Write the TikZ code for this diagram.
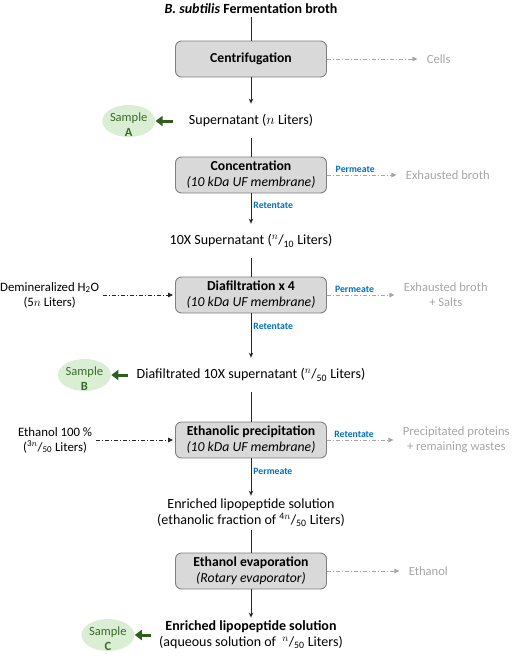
\documentclass[tikz,border=0pt]{standalone}
\usepackage{fontspec}
\setmainfont{Carlito}
\usepackage{tikz}
\usetikzlibrary{positioning}
\usetikzlibrary{shapes.geometric}
\usetikzlibrary{arrows.meta}

\definecolor{boxfill}{HTML}{D9D9D9}
\definecolor{boxline}{HTML}{7F7F7F}
\definecolor{wastegray}{HTML}{A6A6A6}
\definecolor{flowblue}{HTML}{0070C0}
\definecolor{samplefill}{HTML}{D9EED2}
\definecolor{samplegreen}{HTML}{3B6B2A}
\definecolor{arrowgreen}{HTML}{2F5F1F}

\newcommand{\Lfrac}[2]{\textsuperscript{#1}/\textsubscript{#2}}
\newcommand{\smp}[1]{\raisebox{-8pt}[8pt][8pt]{\begin{tabular}{@{}c@{}}Sample\\[0.5pt]\textbf{#1}\end{tabular}}}

\begin{document}
\begin{tikzpicture}[x=1pt,y=1pt,>={Stealth[length=5pt,width=4.5pt]},thick,
  unit/.style={rectangle,rounded corners=6pt,draw=boxline,fill=boxfill,line width=0.9pt,minimum width=151pt,minimum height=36pt,align=center,font=\fontsize{13.7}{16}\selectfont},
  stream/.style={align=center,minimum height=34pt,inner sep=3pt,font=\fontsize{14}{16}\selectfont},
  waste/.style={align=center,inner sep=0pt,text=wastegray,font=\fontsize{12.6}{15}\selectfont},
  feed/.style={align=center,inner sep=3pt,font=\fontsize{12.8}{15}\selectfont},
  sample/.style={ellipse,fill=samplefill,minimum width=53pt,minimum height=32pt,inner sep=0pt,text=samplegreen,font=\fontsize{12.5}{14}\selectfont},
  lbl/.style={text=flowblue,inner sep=2pt,font=\fontsize{9.7}{10}\selectfont\bfseries},
  dashflow/.style={line width=0.8pt,dash pattern=on 4pt off 2pt on 1pt off 2pt,-{Triangle[length=5pt,width=4.5pt]}},
  take/.style={draw=arrowgreen,line width=3pt,-{Triangle[length=7pt,width=10pt]}}]

  \useasboundingbox (0,0) rectangle (512,-656);

  \node[stream,minimum height=0pt] (broth) at (251,-9) {\textbf{\textit{B. subtilis} Fermentation broth}};
  \node[unit] (cent) [below of=broth,node distance=50pt] {\textbf{Centrifugation}};
  \node[stream] (supA) [below of=cent,node distance=62pt] {Supernatant ($n$ Liters)};
  \node[unit] (conc) [below of=supA,node distance=54pt] {\textbf{Concentration}\\\textit{(10 kDa UF membrane)}};
  \node[stream] (sup10) [below of=conc,node distance=66pt] {10X Supernatant (\Lfrac{$n$}{10} Liters)};
  \node[unit] (dia) [below of=sup10,node distance=54pt] {\textbf{Diafiltration x 4}\\\textit{(10 kDa UF membrane)}};
  \node[stream] (dia10) [below of=dia,node distance=80pt] {Diafiltrated 10X supernatant (\Lfrac{$n$}{50} Liters)};
  \node[unit] (eth) [below of=dia10,node distance=65pt] {\textbf{Ethanolic precipitation}\\\textit{(10 kDa UF membrane)}};
  \node[stream] (enr) [below of=eth,node distance=73pt] {Enriched lipopeptide solution\\(ethanolic fraction of \Lfrac{4$n$}{50} Liters)};
  \node[unit] (evap) [below of=enr,node distance=58pt] {\textbf{Ethanol evaporation}\\\textit{(Rotary evaporator)}};
  \node[stream] (final) [below of=evap,node distance=64pt] {\textbf{Enriched lipopeptide solution}\\(aqueous solution of \ \Lfrac{$n$}{50} Liters)};

  % side streams
  \node[waste] (cells) [right=99.5pt of cent] {Cells};
  \node[waste] (exh) [right=78.5pt of conc] {Exhausted broth};
  \node[waste] (salts) [right=76.5pt of dia] {Exhausted broth\\+ Salts};
  \node[waste] (prot) [right=75.5pt of eth] {Precipitated proteins\\+ remaining wastes};
  \node[waste] (ethout) [right=81.5pt of evap] {Ethanol};

  \node[feed] (water) [left=72.5pt of dia] {Demineralized H\textsubscript{2}O\\(5$n$ Liters)};
  \node[feed] (etoh) [left=79.5pt of eth] {Ethanol 100 \%\\(\Lfrac{3$n$}{50} Liters)};

  \node[sample] (sA) [left=30pt of supA] {\smp{A}};
  \node[sample] (sB) [left=22pt of dia10] {\smp{B}};
  \node[sample] (sC) [left=21pt of final] {\smp{C}};

  \path[every edge/.style={draw=black!85,line width=0.9pt}]
    (broth) edge (cent)
    (cent) edge[->] (supA)
    (supA) edge (conc)
    (conc) edge[->] node[lbl,right,pos=.39] {Retentate} (sup10)
    (sup10) edge (dia)
    (dia) edge[->] node[lbl,right,pos=.29] {Retentate} (dia10)
    (dia10) edge (eth)
    (eth) edge[->] node[lbl,right,pos=.34] {Permeate} (enr)
    (enr) edge (evap)
    (evap) edge[->] (final);

  \path[every edge/.style={draw=wastegray,dashflow,shorten >=9pt}]
    (cent) edge (cells)
    (conc) edge node[lbl,above,pos=.36] {Permeate} (exh)
    (dia) edge node[lbl,above,pos=.36] {Permeate} (salts)
    (eth) edge node[lbl,above,pos=.36] {Retentate} (prot)
    (evap) edge (ethout);

  \path[every edge/.style={draw=black!85,dashflow,shorten >=2pt}]
    (water) edge (dia)
    (etoh) edge (eth);

  \path[every edge/.style={take}]
    (supA) edge[shorten <=13pt] (sA)
    (dia10) edge[shorten <=5pt] (sB)
    (final) edge[shorten <=5pt] (sC);

\end{tikzpicture}
\end{document}
